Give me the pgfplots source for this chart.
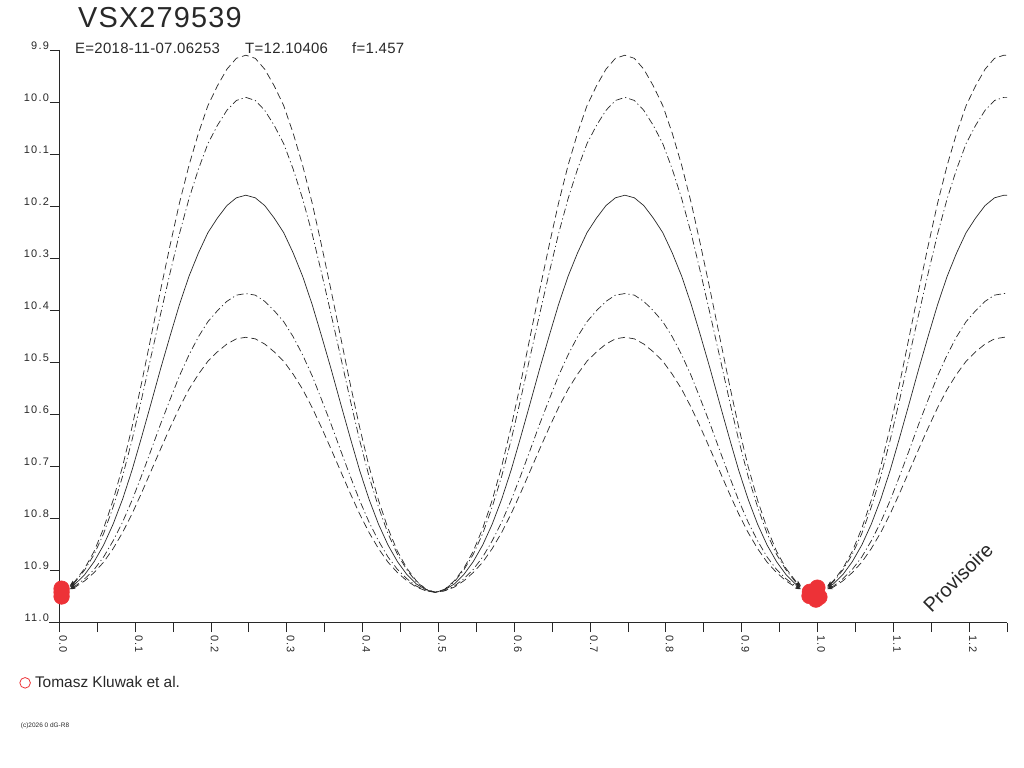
\documentclass[border=0pt]{standalone}
\usepackage{fontspec}
\setmainfont{Liberation Sans}
\usepackage{pgfplots}
\pgfplotsset{compat=1.18}
\usepackage{pgfplotstable}
\usetikzlibrary{arrows.meta}
\definecolor{ptred}{RGB}{237,50,55}
\definecolor{ink}{RGB}{40,40,40}
\newfontfamily\hdrfont[LetterSpace=2]{Liberation Sans}
\newfontfamily\tickfont[LetterSpace=12]{Liberation Sans}
\newfontfamily\legfont{Liberation Sans}

% phase, then the five model curves (outer dashed, dash-dot, solid, dash-dot, inner dashed)
\pgfplotstableread{
ph c1 c2 c3 c4 c5
0.014 10.929 10.930 10.932 10.935 10.936
0.021 10.920 10.922 10.926 10.930 10.932
0.0335 10.896 10.899 10.908 10.916 10.920
0.046 10.863 10.869 10.883 10.898 10.904
0.0585 10.819 10.829 10.851 10.874 10.884
0.071 10.765 10.778 10.811 10.843 10.858
0.0835 10.700 10.719 10.763 10.807 10.827
0.096 10.624 10.649 10.707 10.765 10.791
0.1085 10.540 10.571 10.644 10.718 10.751
0.121 10.451 10.489 10.579 10.669 10.709
0.1335 10.362 10.408 10.513 10.619 10.667
0.146 10.276 10.329 10.450 10.572 10.626
0.1585 10.194 10.253 10.389 10.526 10.587
0.171 10.122 10.186 10.335 10.486 10.552
0.1835 10.060 10.129 10.290 10.451 10.523
0.196 10.007 10.080 10.251 10.422 10.498
0.2085 9.969 10.045 10.223 10.401 10.480
0.221 9.937 10.016 10.199 10.383 10.465
0.2335 9.916 9.997 10.184 10.371 10.455
0.246 9.910 9.991 10.179 10.368 10.452
0.2585 9.916 9.997 10.184 10.371 10.455
0.271 9.937 10.016 10.199 10.383 10.465
0.2835 9.969 10.045 10.223 10.401 10.480
0.296 10.007 10.080 10.251 10.422 10.498
0.3085 10.060 10.129 10.290 10.451 10.523
0.321 10.122 10.186 10.335 10.486 10.552
0.3335 10.194 10.253 10.389 10.526 10.587
0.346 10.276 10.329 10.450 10.572 10.626
0.3585 10.362 10.408 10.513 10.619 10.667
0.371 10.451 10.489 10.579 10.669 10.709
0.3835 10.540 10.571 10.644 10.718 10.751
0.396 10.624 10.649 10.707 10.765 10.791
0.4085 10.700 10.719 10.763 10.807 10.827
0.421 10.765 10.778 10.811 10.843 10.858
0.4335 10.819 10.829 10.851 10.874 10.884
0.446 10.863 10.869 10.883 10.898 10.904
0.4585 10.896 10.899 10.908 10.916 10.920
0.471 10.920 10.922 10.926 10.930 10.932
0.4835 10.936 10.936 10.937 10.939 10.939
0.496 10.942 10.942 10.942 10.942 10.942
0.5085 10.936 10.936 10.937 10.939 10.939
0.521 10.920 10.922 10.926 10.930 10.932
0.5335 10.896 10.899 10.908 10.916 10.920
0.546 10.863 10.869 10.883 10.898 10.904
0.5585 10.819 10.829 10.851 10.874 10.884
0.571 10.765 10.778 10.811 10.843 10.858
0.5835 10.700 10.719 10.763 10.807 10.827
0.596 10.624 10.649 10.707 10.765 10.791
0.6085 10.540 10.571 10.644 10.718 10.751
0.621 10.451 10.489 10.579 10.669 10.709
0.6335 10.362 10.408 10.513 10.619 10.667
0.646 10.276 10.329 10.450 10.572 10.626
0.6585 10.194 10.253 10.389 10.526 10.587
0.671 10.122 10.186 10.335 10.486 10.552
0.6835 10.060 10.129 10.290 10.451 10.523
0.696 10.007 10.080 10.251 10.422 10.498
0.7085 9.969 10.045 10.223 10.401 10.480
0.721 9.937 10.016 10.199 10.383 10.465
0.7335 9.916 9.997 10.184 10.371 10.455
0.746 9.910 9.991 10.179 10.368 10.452
0.7585 9.916 9.997 10.184 10.371 10.455
0.771 9.937 10.016 10.199 10.383 10.465
0.7835 9.969 10.045 10.223 10.401 10.480
0.796 10.007 10.080 10.251 10.422 10.498
0.8085 10.060 10.129 10.290 10.451 10.523
0.821 10.122 10.186 10.335 10.486 10.552
0.8335 10.194 10.253 10.389 10.526 10.587
0.846 10.276 10.329 10.450 10.572 10.626
0.8585 10.362 10.408 10.513 10.619 10.667
0.871 10.451 10.489 10.579 10.669 10.709
0.8835 10.540 10.571 10.644 10.718 10.751
0.896 10.624 10.649 10.707 10.765 10.791
0.9085 10.700 10.719 10.763 10.807 10.827
0.921 10.765 10.778 10.811 10.843 10.858
0.9335 10.819 10.829 10.851 10.874 10.884
0.946 10.863 10.869 10.883 10.898 10.904
0.9585 10.896 10.899 10.908 10.916 10.920
0.971 10.920 10.922 10.926 10.930 10.932
0.978 10.929 10.930 10.932 10.935 10.936
}\segA

\pgfplotstableread{
ph c1 c2 c3 c4 c5
1.013 10.930 10.931 10.933 10.935 10.936
1.021 10.920 10.922 10.926 10.930 10.932
1.0335 10.896 10.899 10.908 10.916 10.920
1.046 10.863 10.869 10.883 10.898 10.904
1.0585 10.819 10.829 10.851 10.874 10.884
1.071 10.765 10.778 10.811 10.843 10.858
1.0835 10.700 10.719 10.763 10.807 10.827
1.096 10.624 10.649 10.707 10.765 10.791
1.1085 10.540 10.571 10.644 10.718 10.751
1.121 10.451 10.489 10.579 10.669 10.709
1.1335 10.362 10.408 10.513 10.619 10.667
1.146 10.276 10.329 10.450 10.572 10.626
1.1585 10.194 10.253 10.389 10.526 10.587
1.171 10.122 10.186 10.335 10.486 10.552
1.1835 10.060 10.129 10.290 10.451 10.523
1.196 10.007 10.080 10.251 10.422 10.498
1.2085 9.969 10.045 10.223 10.401 10.480
1.221 9.937 10.016 10.199 10.383 10.465
1.2335 9.916 9.997 10.184 10.371 10.455
1.246 9.910 9.991 10.179 10.368 10.452
1.25 9.910 9.991 10.179 10.368 10.452
}\segB

\begin{document}
\begin{tikzpicture}[>={Stealth[length=5.5bp,width=3.5bp]}]
\useasboundingbox (0,0) rectangle (1024bp,768bp);
\begin{axis}[
  at={(59.3bp,145.5bp)}, anchor=south west,
  scale only axis, width=947.7bp, height=572.5bp,
  xmin=0, xmax=1.25, ymin=9.9, ymax=11.0, y dir=reverse,
  axis x line=bottom, axis y line=left,
  axis line style={-, ink, line width=0.8bp},
  every outer x axis line/.append style={-, shorten <=-10.3bp},
  every outer y axis line/.append style={-},
  clip=false,
  tick align=outside,
  major tick length=9.5bp, minor tick length=9.5bp,
  tick style={ink, line width=0.8bp},
  xtick={0,0.1,0.2,0.3,0.4,0.5,0.6,0.7,0.8,0.9,1.0,1.1,1.2},
  xticklabels={0.0,0.1,0.2,0.3,0.4,0.5,0.6,0.7,0.8,0.9,1.0,1.1,1.2},
  minor xtick={0.05,0.15,0.25,0.35,0.45,0.55,0.65,0.75,0.85,0.95,1.05,1.15,1.25},
  ytick={9.9,10.0,10.1,10.2,10.3,10.4,10.5,10.6,10.7,10.8,10.9,11.0},
  yticklabels={9.9,10.0,10.1,10.2,10.3,10.4,10.5,10.6,10.7,10.8,10.9,11.0},
  xticklabel style={rotate=-90, anchor=base west, inner sep=3bp, text=ink, font=\tickfont\fontsize{11}{12}\selectfont},
  yticklabel style={anchor=south east, inner sep=0.5bp, text=ink, font=\tickfont\fontsize{11}{12}\selectfont},
  legend style={draw=none, fill=none, at={(axis description cs:-0.0423,-0.1054)}, anchor=west, inner sep=0pt,
    font=\legfont\fontsize{15.5}{16}\selectfont, text=ink, nodes={inner sep=2bp}},
  legend image code/.code={\draw[ptred, line width=0.8bp] (5.3bp,0bp) circle (5.3bp); \path (13bp,0bp);},
  dsh/.style={ink, line width=0.7bp, dash pattern=on 7bp off 4bp},
  dshdot/.style={ink, line width=0.7bp, dash pattern=on 7bp off 3bp on 1.2bp off 3bp},
  sol/.style={ink, line width=0.7bp},
]
\addlegendimage{ptred}
\addlegendentry{Tomasz Kluwak et al.}

\addplot[dsh, <->] table[x=ph, y=c1] {\segA};
\addplot[dshdot, <->] table[x=ph, y=c2] {\segA};
\addplot[sol, <->] table[x=ph, y=c3] {\segA};
\addplot[dshdot, <->] table[x=ph, y=c4] {\segA};
\addplot[dsh, <->] table[x=ph, y=c5] {\segA};

\addplot[dsh, <-] table[x=ph, y=c1] {\segB};
\addplot[dshdot, <-] table[x=ph, y=c2] {\segB};
\addplot[sol, <-] table[x=ph, y=c3] {\segB};
\addplot[dshdot, <-] table[x=ph, y=c4] {\segB};
\addplot[dsh, <-] table[x=ph, y=c5] {\segB};

\addplot[only marks, mark=*, mark size=7.8bp, mark options={draw=ptred, fill=ptred, line width=0.6bp}] coordinates {
(0.003,10.935) (0.003,10.942) (0.003,10.950)
(0.9999,10.933) (1.0026,10.951) (0.998,10.956) (0.9895,10.949) (0.990,10.941)
};
\end{axis}

\node[anchor=base west, inner sep=0pt, text=ink, font=\fontsize{29}{29}\selectfont\addfontfeature{LetterSpace=4}] at (78bp,740bp) {VSX279539};
\node[anchor=base west, inner sep=0pt, text=ink, font=\hdrfont\fontsize{15}{16}\selectfont] at (75bp,714.7bp) {E=2018-11-07.06253};
\node[anchor=base west, inner sep=0pt, text=ink, font=\hdrfont\fontsize{15}{16}\selectfont] at (245bp,714.7bp) {T=12.10406};
\node[anchor=base west, inner sep=0pt, text=ink, font=\hdrfont\fontsize{15}{16}\selectfont] at (352bp,714.7bp) {f=1.457};
\node[rotate=45, inner sep=0pt, text=ink, font=\fontsize{20}{20}\selectfont] at (958bp,190.5bp) {Provisoire};
\node[anchor=base west, inner sep=0pt, text=ink, font=\fontsize{6.5}{7}\selectfont] at (20.7bp,40.5bp) {(c)2026 0 dG-R8};
\end{tikzpicture}
\end{document}
